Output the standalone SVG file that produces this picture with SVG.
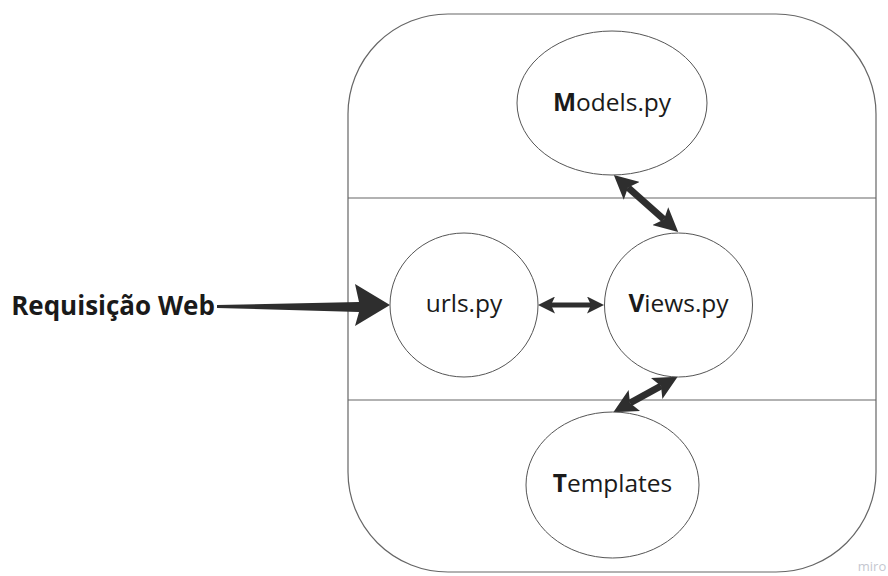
<svg xmlns="http://www.w3.org/2000/svg" width="888" height="576" viewBox="0 0 888 576">
  <style>
    .frame { fill: none; stroke: #666; stroke-width: 1.2; }
    .node { fill: #fff; stroke: #555; stroke-width: 1; }
    .label { font-family: "Open Sans", "Noto Sans", sans-serif; font-size: 24.5px; fill: #1a1a1a; text-anchor: middle; }
    .b { font-weight: bold; }
    .conn { stroke: #2e2e2e; fill: none; }
    .head { fill: #2e2e2e; }
  </style>
  <defs>
    <marker id="bigHead" markerUnits="userSpaceOnUse" viewBox="0 0 24 24" markerWidth="24" markerHeight="24" refX="5" refY="12" orient="auto-start-reverse">
      <path class="head" d="M0,0 L24,12 L0,24 L5,12 z"/>
    </marker>
    <marker id="smallHead" markerUnits="userSpaceOnUse" viewBox="0 0 17 17" markerWidth="17" markerHeight="17" refX="4" refY="8.5" orient="auto-start-reverse">
      <path class="head" d="M0,0 L17,8.5 L0,17 L4,8.5 z"/>
    </marker>
  </defs>
  <rect width="888" height="576" fill="#fff"/>

  <g id="container">
    <rect class="frame" x="348" y="14" width="528" height="558" rx="100" ry="100"/>
    <line class="frame" x1="348" y1="198" x2="876" y2="198"/>
    <line class="frame" x1="348" y1="400" x2="876" y2="400"/>
  </g>

  <g id="connectors">
    <polygon class="head" points="217,305 359,302 355,284 390,305 355,326 359,312 217,308"/>
    <line class="conn" stroke-width="7" x1="628" y1="187.5" x2="664" y2="219.5" marker-start="url(#bigHead)" marker-end="url(#bigHead)"/>
    <line class="conn" stroke-width="5" x1="551" y1="305" x2="591" y2="305" marker-start="url(#smallHead)" marker-end="url(#smallHead)"/>
    <line class="conn" stroke-width="7" x1="661" y1="386" x2="630" y2="403" marker-start="url(#bigHead)" marker-end="url(#bigHead)"/>
  </g>

  <g id="requisicao">
    <text class="label b" x="113" y="315" style="font-size:26px">Requisição Web</text>
  </g>

  <g id="models">
    <ellipse class="node" cx="612" cy="103" rx="95" ry="72"/>
    <text class="label" x="612" y="111"><tspan class="b">M</tspan>odels.py</text>
  </g>

  <g id="urls">
    <ellipse class="node" cx="464" cy="305" rx="74" ry="72"/>
    <text class="label" x="464" y="312">urls.py</text>
  </g>

  <g id="views">
    <ellipse class="node" cx="678.5" cy="305" rx="74" ry="72"/>
    <text class="label" x="678.5" y="312"><tspan class="b">V</tspan>iews.py</text>
  </g>

  <g id="templates">
    <ellipse class="node" cx="612.5" cy="485" rx="86.5" ry="73"/>
    <text class="label" x="612.5" y="492"><tspan class="b">T</tspan>emplates</text>
  </g>

  <text x="872" y="571" font-family="'Open Sans', 'Noto Sans', sans-serif" font-size="13" fill="#c5c7d0" text-anchor="middle">miro</text>
</svg>
